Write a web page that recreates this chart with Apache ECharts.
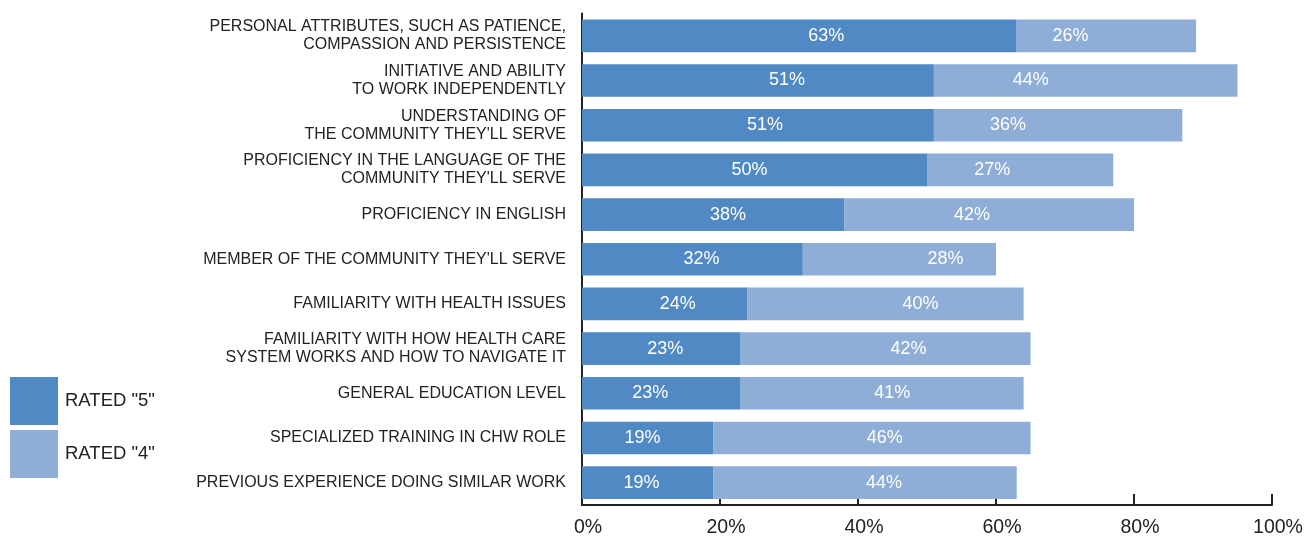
<!DOCTYPE html>
<html>
<head>
<meta charset="utf-8">
<script src="https://cdn.jsdelivr.net/npm/echarts@6/dist/echarts.min.js"></script>
<style>
  html, body { margin: 0; padding: 0; background: #fff; }
  #chart { width: 1307px; height: 538px; }
</style>
</head>
<body>
<div id="chart"></div>
<script>
// Attributes, listed top to bottom
const categories = [
  "PERSONAL ATTRIBUTES, SUCH AS PATIENCE,\nCOMPASSION AND PERSISTENCE",
  "INITIATIVE AND ABILITY\nTO WORK INDEPENDENTLY",
  "UNDERSTANDING OF\nTHE COMMUNITY THEY'LL SERVE",
  "PROFICIENCY IN THE LANGUAGE OF THE\nCOMMUNITY THEY'LL SERVE",
  "PROFICIENCY IN ENGLISH",
  "MEMBER OF THE COMMUNITY THEY'LL SERVE",
  "FAMILIARITY WITH HEALTH ISSUES",
  "FAMILIARITY WITH HOW HEALTH CARE\nSYSTEM WORKS AND HOW TO NAVIGATE IT",
  "GENERAL EDUCATION LEVEL",
  "SPECIALIZED TRAINING IN CHW ROLE",
  "PREVIOUS EXPERIENCE DOING SIMILAR WORK"
];
const rated5 = [63, 51, 51, 50, 38, 32, 24, 23, 23, 19, 19];
const rated4 = [26, 44, 36, 27, 42, 28, 40, 42, 41, 46, 44];
const seriesNames = ['RATED "5"', 'RATED "4"'];
const xTicks = [0, 20, 40, 60, 80, 100];

// Horizontal nudges (px) for the in-bar value labels, hand-placed per bar
const labelNudge5 = [27, 29, 7, -5, 15, 9, 13, 4, -11, -5, -6];
const labelNudge4 = [-36, -55, -50, -28, -17, 46, 35, 23, 10, 13, 19];

const FONT = '"Liberation Sans", Arial, Helvetica, sans-serif';
const chart = echarts.init(document.getElementById('chart'), null, { renderer: 'canvas' });

const labelStyle = {
  show: true,
  position: 'inside',
  color: '#ffffff',
  fontFamily: FONT,
  fontSize: 18,
  formatter: p => p.value + '%'
};

const withNudges = (values, nudges) =>
  values.map((v, i) => ({ value: v, label: { offset: [nudges[i], 0] } }));

chart.setOption({
  animation: false,
  backgroundColor: '#ffffff',
  grid: { left: 582, right: 35, top: 13.5, bottom: 28.5, containLabel: false },
  legend: {
    orient: 'vertical',
    left: 5,
    top: 372,
    itemWidth: 48,
    itemHeight: 48,
    itemGap: 5,
    icon: 'rect',
    data: seriesNames,
    textStyle: { fontFamily: FONT, fontSize: 18.5, color: '#222', padding: [2, 0, 0, 2] },
    selectedMode: false
  },
  xAxis: {
    type: 'value',
    min: xTicks[0],
    max: xTicks[xTicks.length - 1],
    interval: 20,
    splitLine: { show: false },
    axisLine: { show: true, lineStyle: { color: '#222', width: 2 } },
    axisTick: { show: true, inside: true, length: 11, lineStyle: { color: '#222', width: 2 } },
    axisLabel: {
      margin: 13,
      fontFamily: FONT,
      fontSize: 19.5,
      color: '#222',
      padding: [0, 0, 0, 12],
      formatter: v => v + '%'
    }
  },
  yAxis: {
    type: 'category',
    inverse: true,
    data: categories,
    axisLine: { show: true, lineStyle: { color: '#222', width: 2 } },
    axisTick: { show: false },
    axisLabel: {
      margin: 16,
      fontFamily: FONT,
      fontSize: 16,
      lineHeight: 18,
      color: '#222',
      align: 'right'
    }
  },
  series: [
    {
      name: seriesNames[0],
      type: 'bar',
      stack: 'total',
      data: withNudges(rated5, labelNudge5),
      barWidth: '73%',
      itemStyle: { color: '#5089C4' },
      label: labelStyle
    },
    {
      name: seriesNames[1],
      type: 'bar',
      stack: 'total',
      data: withNudges(rated4, labelNudge4),
      barWidth: '73%',
      itemStyle: { color: '#8EADD7' },
      label: labelStyle
    }
  ]
});
</script>
</body>
</html>
